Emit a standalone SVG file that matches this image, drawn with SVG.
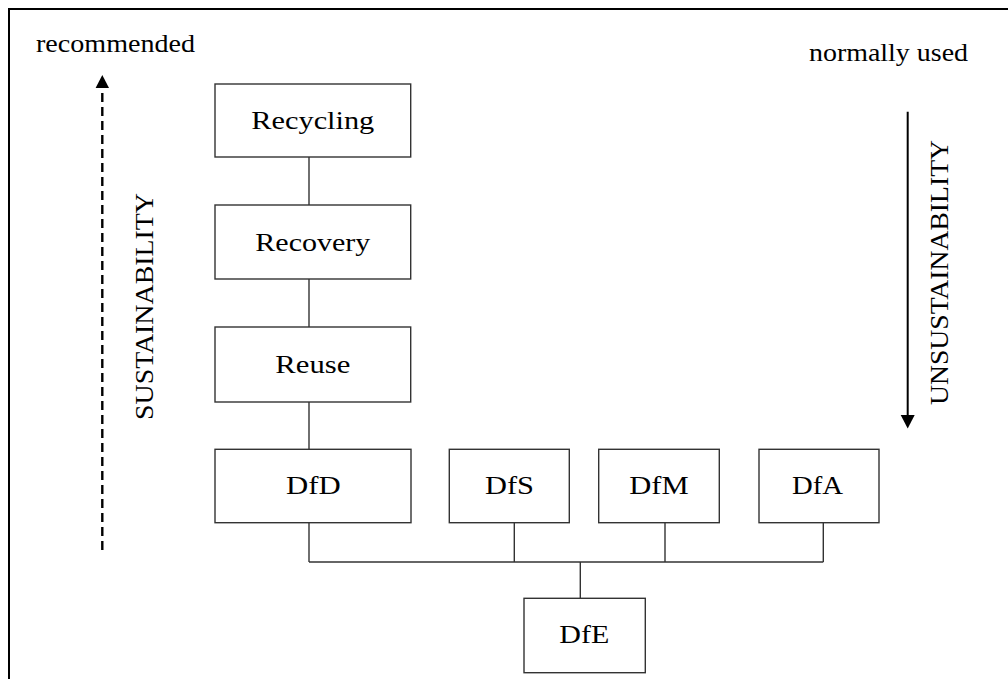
<svg xmlns="http://www.w3.org/2000/svg" width="1008" height="679" viewBox="0 0 1008 679">
<style>
.box{fill:#fff;stroke:#333;stroke-width:1.4}
.t{font-family:"Liberation Serif","Times New Roman",serif;font-size:26px;fill:#000;text-anchor:middle}
.lbl{font-family:"Liberation Serif","Times New Roman",serif;font-size:25px;fill:#000}
.conn{stroke:#333;stroke-width:1.4;fill:none}
</style>
<rect width="1008" height="679" fill="#fff"/>
<path d="M9,679 V9 H1008" fill="none" stroke="#000" stroke-width="2"/>

<g id="labels">
<text class="lbl" x="36" y="52" textLength="159" lengthAdjust="spacingAndGlyphs">recommended</text>
<text class="lbl" x="809" y="61" textLength="159" lengthAdjust="spacingAndGlyphs">normally used</text>
<text class="lbl" text-anchor="middle" transform="translate(152.5,306.5) rotate(-90)" textLength="227" lengthAdjust="spacingAndGlyphs">SUSTAINABILITY</text>
<text class="lbl" text-anchor="middle" transform="translate(948,272.5) rotate(-90)" textLength="265" lengthAdjust="spacingAndGlyphs">UNSUSTAINABILITY</text>
</g>

<g id="trend-arrows">
<line x1="102.3" y1="550" x2="102.3" y2="93" stroke="#000" stroke-width="2.4" stroke-dasharray="9,5"/>
<path d="M95.6,88 L102.3,75 L109,88 Z" fill="#000"/>
<line x1="907.7" y1="111.7" x2="907.7" y2="416" stroke="#000" stroke-width="2"/>
<path d="M900.7,415 L907.7,428.5 L914.7,415 Z" fill="#000"/>
</g>

<g id="connectors">
<line class="conn" x1="309" y1="157" x2="309" y2="205"/>
<line class="conn" x1="309" y1="279" x2="309" y2="327"/>
<line class="conn" x1="309" y1="402" x2="309" y2="449.3"/>
<line class="conn" x1="309" y1="522.7" x2="309" y2="562"/>
<line class="conn" x1="514.3" y1="522.7" x2="514.3" y2="562"/>
<line class="conn" x1="665" y1="522.7" x2="665" y2="562"/>
<line class="conn" x1="823.3" y1="522.7" x2="823.3" y2="562"/>
<line class="conn" x1="309" y1="562" x2="823.3" y2="562"/>
<line class="conn" x1="580.3" y1="562" x2="580.3" y2="598.3"/>
</g>

<g id="recycling">
<rect class="box" x="215" y="84" width="195.7" height="73"/>
<text class="t" x="312.8" y="129.3" textLength="123" lengthAdjust="spacingAndGlyphs">Recycling</text>
</g>
<g id="recovery">
<rect class="box" x="215" y="205" width="195.7" height="74"/>
<text class="t" x="312.8" y="250.5" textLength="115" lengthAdjust="spacingAndGlyphs">Recovery</text>
</g>
<g id="reuse">
<rect class="box" x="215" y="327" width="195.7" height="75"/>
<text class="t" x="312.8" y="372.5" textLength="75" lengthAdjust="spacingAndGlyphs">Reuse</text>
</g>
<g id="dfd">
<rect class="box" x="215" y="449.3" width="196" height="73.4"/>
<text class="t" x="313.4" y="494" textLength="54.7" lengthAdjust="spacingAndGlyphs">DfD</text>
</g>
<g id="dfs">
<rect class="box" x="449.3" y="449.3" width="120" height="73.4"/>
<text class="t" x="509.5" y="494" textLength="49" lengthAdjust="spacingAndGlyphs">DfS</text>
</g>
<g id="dfm">
<rect class="box" x="598.7" y="449.3" width="120.6" height="73.4"/>
<text class="t" x="659" y="494" textLength="59.4" lengthAdjust="spacingAndGlyphs">DfM</text>
</g>
<g id="dfa">
<rect class="box" x="759" y="449.3" width="120" height="73.4"/>
<text class="t" x="817.5" y="494" textLength="51" lengthAdjust="spacingAndGlyphs">DfA</text>
</g>
<g id="dfe">
<rect class="box" x="524" y="598.3" width="121.3" height="74.4"/>
<text class="t" x="584.3" y="643.3" textLength="50" lengthAdjust="spacingAndGlyphs">DfE</text>
</g>
</svg>
